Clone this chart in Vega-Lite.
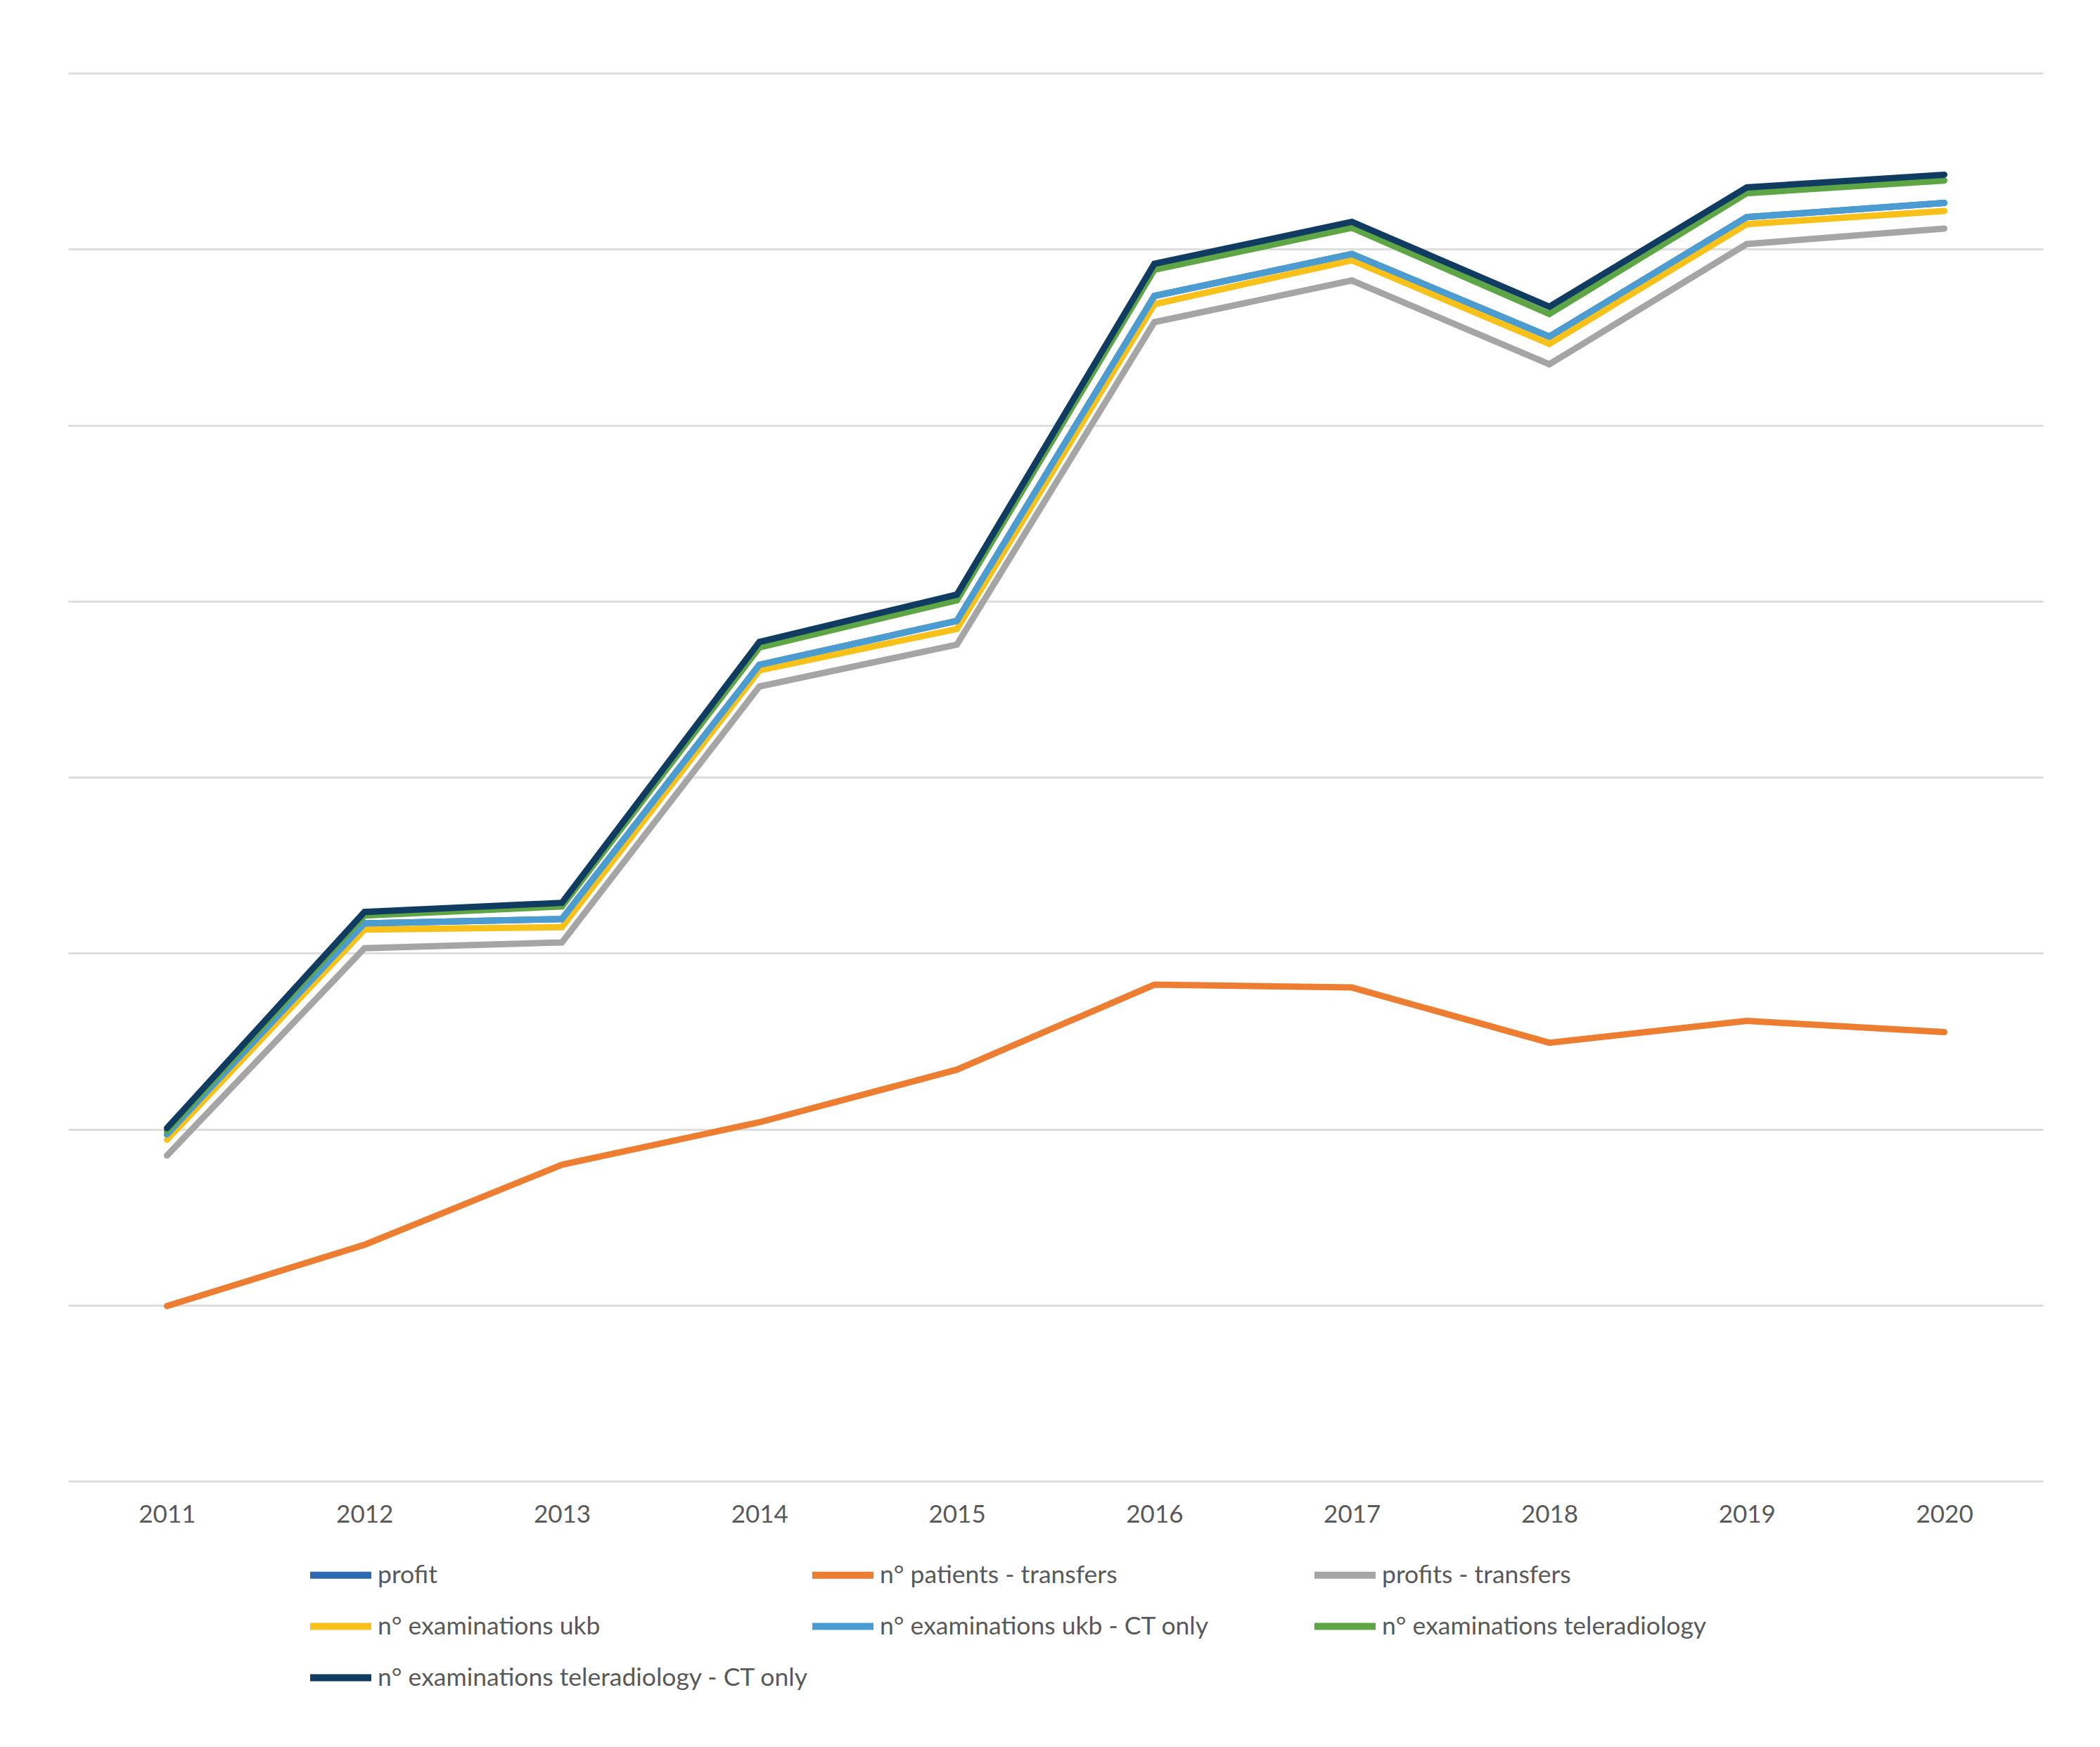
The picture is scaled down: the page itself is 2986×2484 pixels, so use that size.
{
  "$schema": "https://vega.github.io/schema/vega-lite/v6.json",
  "width": 2808,
  "height": 2002,
  "autosize": {"type": "none"},
  "padding": {"left": 97, "top": 104, "right": 81, "bottom": 378},
  "background": "#FFFFFF",
  "config": {
    "view": {"stroke": null},
    "font": "Lato",
    "axis": {"gridColor": "#DEDEDE", "gridWidth": 3}
  },
  "data": {
    "values": [
      {"year": "2011", "series": "profit", "value": 1.97},
      {"year": "2012", "series": "profit", "value": 3.169},
      {"year": "2013", "series": "profit", "value": 3.194},
      {"year": "2014", "series": "profit", "value": 4.638},
      {"year": "2015", "series": "profit", "value": 4.888},
      {"year": "2016", "series": "profit", "value": 6.734},
      {"year": "2017", "series": "profit", "value": 6.972},
      {"year": "2018", "series": "profit", "value": 6.503},
      {"year": "2019", "series": "profit", "value": 7.182},
      {"year": "2020", "series": "profit", "value": 7.263},

      {"year": "2011", "series": "n° patients - transfers", "value": 0.995},
      {"year": "2012", "series": "n° patients - transfers", "value": 1.343},
      {"year": "2013", "series": "n° patients - transfers", "value": 1.798},
      {"year": "2014", "series": "n° patients - transfers", "value": 2.039},
      {"year": "2015", "series": "n° patients - transfers", "value": 2.338},
      {"year": "2016", "series": "n° patients - transfers", "value": 2.821},
      {"year": "2017", "series": "n° patients - transfers", "value": 2.805},
      {"year": "2018", "series": "n° patients - transfers", "value": 2.491},
      {"year": "2019", "series": "n° patients - transfers", "value": 2.615},
      {"year": "2020", "series": "n° patients - transfers", "value": 2.551},

      {"year": "2011", "series": "profits - transfers", "value": 1.85},
      {"year": "2012", "series": "profits - transfers", "value": 3.028},
      {"year": "2013", "series": "profits - transfers", "value": 3.061},
      {"year": "2014", "series": "profits - transfers", "value": 4.515},
      {"year": "2015", "series": "profits - transfers", "value": 4.753},
      {"year": "2016", "series": "profits - transfers", "value": 6.585},
      {"year": "2017", "series": "profits - transfers", "value": 6.822},
      {"year": "2018", "series": "profits - transfers", "value": 6.346},
      {"year": "2019", "series": "profits - transfers", "value": 7.029},
      {"year": "2020", "series": "profits - transfers", "value": 7.117},

      {"year": "2011", "series": "n° examinations ukb", "value": 1.94},
      {"year": "2012", "series": "n° examinations ukb", "value": 3.134},
      {"year": "2013", "series": "n° examinations ukb", "value": 3.148},
      {"year": "2014", "series": "n° examinations ukb", "value": 4.607},
      {"year": "2015", "series": "n° examinations ukb", "value": 4.842},
      {"year": "2016", "series": "n° examinations ukb", "value": 6.687},
      {"year": "2017", "series": "n° examinations ukb", "value": 6.937},
      {"year": "2018", "series": "n° examinations ukb", "value": 6.462},
      {"year": "2019", "series": "n° examinations ukb", "value": 7.142},
      {"year": "2020", "series": "n° examinations ukb", "value": 7.217},

      {"year": "2011", "series": "n° examinations ukb - CT only", "value": 1.97},
      {"year": "2012", "series": "n° examinations ukb - CT only", "value": 3.169},
      {"year": "2013", "series": "n° examinations ukb - CT only", "value": 3.194},
      {"year": "2014", "series": "n° examinations ukb - CT only", "value": 4.638},
      {"year": "2015", "series": "n° examinations ukb - CT only", "value": 4.888},
      {"year": "2016", "series": "n° examinations ukb - CT only", "value": 6.734},
      {"year": "2017", "series": "n° examinations ukb - CT only", "value": 6.972},
      {"year": "2018", "series": "n° examinations ukb - CT only", "value": 6.503},
      {"year": "2019", "series": "n° examinations ukb - CT only", "value": 7.182},
      {"year": "2020", "series": "n° examinations ukb - CT only", "value": 7.263},

      {"year": "2011", "series": "n° examinations teleradiology", "value": 1.99},
      {"year": "2012", "series": "n° examinations teleradiology", "value": 3.214},
      {"year": "2013", "series": "n° examinations teleradiology", "value": 3.265},
      {"year": "2014", "series": "n° examinations teleradiology", "value": 4.737},
      {"year": "2015", "series": "n° examinations teleradiology", "value": 5.005},
      {"year": "2016", "series": "n° examinations teleradiology", "value": 6.883},
      {"year": "2017", "series": "n° examinations teleradiology", "value": 7.121},
      {"year": "2018", "series": "n° examinations teleradiology", "value": 6.632},
      {"year": "2019", "series": "n° examinations teleradiology", "value": 7.318},
      {"year": "2020", "series": "n° examinations teleradiology", "value": 7.39},

      {"year": "2011", "series": "n° examinations teleradiology - CT only", "value": 2.006},
      {"year": "2012", "series": "n° examinations teleradiology - CT only", "value": 3.234},
      {"year": "2013", "series": "n° examinations teleradiology - CT only", "value": 3.286},
      {"year": "2014", "series": "n° examinations teleradiology - CT only", "value": 4.768},
      {"year": "2015", "series": "n° examinations teleradiology - CT only", "value": 5.037},
      {"year": "2016", "series": "n° examinations teleradiology - CT only", "value": 6.917},
      {"year": "2017", "series": "n° examinations teleradiology - CT only", "value": 7.155},
      {"year": "2018", "series": "n° examinations teleradiology - CT only", "value": 6.673},
      {"year": "2019", "series": "n° examinations teleradiology - CT only", "value": 7.351},
      {"year": "2020", "series": "n° examinations teleradiology - CT only", "value": 7.423}
    ]
  },
  "mark": {"type": "line", "strokeWidth": 9, "strokeCap": "round", "strokeJoin": "miter"},
  "encoding": {
    "x": {
      "field": "year",
      "type": "ordinal",
      "scale": {"type": "point", "padding": 0.5},
      "axis": {
        "title": null,
        "labelAngle": 0,
        "labelFontSize": 35,
        "labelColor": "#595959",
        "labelPadding": 30,
        "ticks": false,
        "domain": false,
        "grid": false
      }
    },
    "y": {
      "field": "value",
      "type": "quantitative",
      "scale": {"domain": [0, 8], "nice": false, "zero": true},
      "axis": {
        "title": null,
        "labels": false,
        "ticks": false,
        "domain": false,
        "values": [0, 1, 2, 3, 4, 5, 6, 7, 8]
      }
    },
    "color": {
      "field": "series",
      "type": "nominal",
      "sort": null,
      "scale": {
        "domain": ["profit", "n° patients - transfers", "profits - transfers", "n° examinations ukb", "n° examinations ukb - CT only", "n° examinations teleradiology", "n° examinations teleradiology - CT only"],
        "range": ["#2E68B0", "#ED7D31", "#A5A5A5", "#F7C11A", "#4B9CD0", "#5DA545", "#0F3C60"]
      },
      "legend": {
        "title": null,
        "orient": "none",
        "direction": "horizontal",
        "legendX": 339,
        "legendY": 2087,
        "columns": 3,
        "gridAlign": "all",
        "columnPadding": -34,
        "rowPadding": 4,
        "symbolType": "stroke",
        "symbolSize": 7569,
        "symbolStrokeWidth": 10,
        "labelFontSize": 35.5,
        "labelColor": "#595959",
        "labelOffset": 4,
        "labelLimit": 1000
      }
    }
  }
}
